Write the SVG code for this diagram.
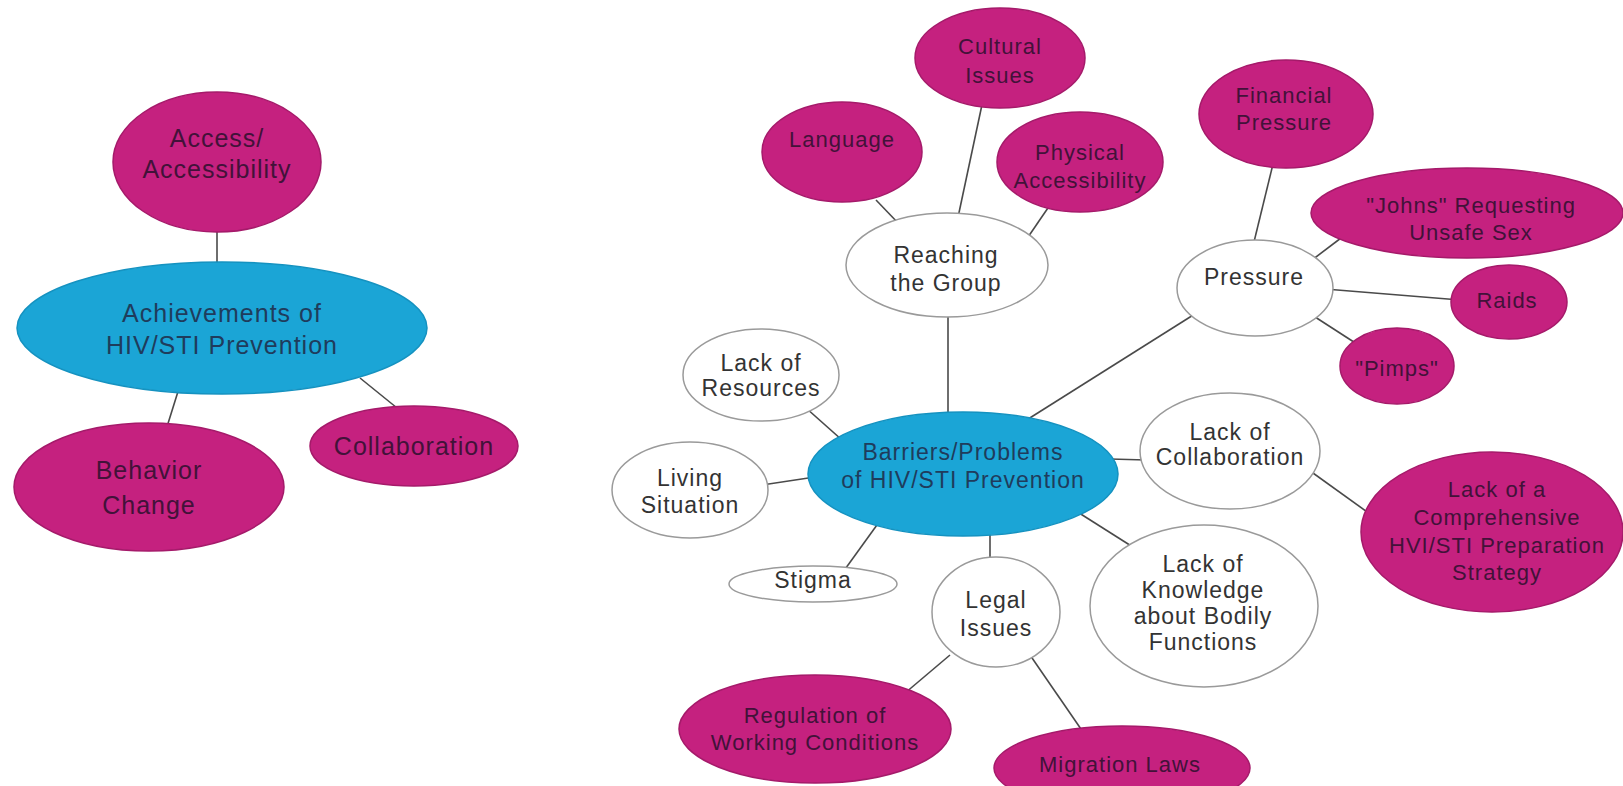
<svg xmlns="http://www.w3.org/2000/svg" width="1623" height="786" viewBox="0 0 1623 786">
<style>
text{font-family:"Liberation Sans",Arial,sans-serif;text-anchor:middle;dominant-baseline:central}
.m ellipse{fill:#C5217F;stroke:#A51A6A;stroke-width:1.5}
.m text{fill:#421239;font-size:22px;letter-spacing:1px}
.b ellipse{fill:#1BA5D6;stroke:#1592C0;stroke-width:1.5}
.b text{fill:#1F3C5C;font-size:23px;letter-spacing:1px}
.w ellipse{fill:#fff;stroke:#9a9a9a;stroke-width:1.5}
.w text{fill:#333;font-size:23px;letter-spacing:1px}
.L text{font-size:25px}
#edges line{stroke:#4a4a4a;stroke-width:1.6}
</style>
<rect width="1623" height="786" fill="#fff"/>
<g id="edges">
<line x1="217" y1="225" x2="217" y2="270"/>
<line x1="180" y1="385" x2="166" y2="430"/>
<line x1="360" y1="378" x2="402" y2="412"/>
<line x1="876" y1="200" x2="900" y2="225"/>
<line x1="983" y1="100" x2="957" y2="222"/>
<line x1="1050" y1="205" x2="1026" y2="240"/>
<line x1="948" y1="310" x2="948" y2="420"/>
<line x1="1274" y1="160" x2="1253" y2="246"/>
<line x1="1345" y1="235" x2="1312" y2="260"/>
<line x1="1325" y1="289" x2="1460" y2="300"/>
<line x1="1312" y1="315" x2="1360" y2="346"/>
<line x1="1198" y1="312" x2="1025" y2="421"/>
<line x1="806" y1="408" x2="842" y2="440"/>
<line x1="762" y1="485" x2="815" y2="477"/>
<line x1="843" y1="572" x2="882" y2="518"/>
<line x1="990" y1="528" x2="990" y2="562"/>
<line x1="1076" y1="511" x2="1136" y2="549"/>
<line x1="1110" y1="459" x2="1146" y2="460"/>
<line x1="1306" y1="468" x2="1370" y2="514"/>
<line x1="950" y1="655" x2="898" y2="699"/>
<line x1="1030" y1="655" x2="1083" y2="732"/>
</g>
<g id="n-access" class="m L"><ellipse cx="217" cy="162" rx="104" ry="70"/><text x="217" y="138">Access/</text><text x="217" y="169">Accessibility</text></g>
<g id="n-achievements" class="b L"><ellipse cx="222" cy="328" rx="205" ry="66"/><text x="222" y="313">Achievements of</text><text x="222" y="345">HIV/STI Prevention</text></g>
<g id="n-behavior" class="m L"><ellipse cx="149" cy="487" rx="135" ry="64"/><text x="149" y="470">Behavior</text><text x="149" y="505">Change</text></g>
<g id="n-collaboration" class="m L"><ellipse cx="414" cy="446" rx="104" ry="40"/><text x="414" y="446">Collaboration</text></g>
<g id="n-cultural" class="m"><ellipse cx="1000" cy="58" rx="85" ry="50"/><text x="1000" y="46">Cultural</text><text x="1000" y="75">Issues</text></g>
<g id="n-language" class="m"><ellipse cx="842" cy="152" rx="80" ry="50"/><text x="842" y="139">Language</text></g>
<g id="n-physical" class="m"><ellipse cx="1080" cy="162" rx="83" ry="50"/><text x="1080" y="152">Physical</text><text x="1080" y="180">Accessibility</text></g>
<g id="n-reaching" class="w"><ellipse cx="947" cy="265" rx="101" ry="52"/><text x="946" y="255">Reaching</text><text x="946" y="283">the Group</text></g>
<g id="n-financial" class="m"><ellipse cx="1286" cy="114" rx="87" ry="54"/><text x="1284" y="95">Financial</text><text x="1284" y="122">Pressure</text></g>
<g id="n-johns" class="m"><ellipse cx="1467" cy="213" rx="156" ry="45"/><text x="1471" y="205">"Johns" Requesting</text><text x="1471" y="232">Unsafe Sex</text></g>
<g id="n-pressure" class="w"><ellipse cx="1255" cy="288" rx="78" ry="48"/><text x="1254" y="277">Pressure</text></g>
<g id="n-raids" class="m"><ellipse cx="1509" cy="302" rx="58" ry="37"/><text x="1507" y="300">Raids</text></g>
<g id="n-pimps" class="m"><ellipse cx="1397" cy="366" rx="57" ry="38"/><text x="1397" y="368">"Pimps"</text></g>
<g id="n-resources" class="w"><ellipse cx="761" cy="375" rx="78" ry="46"/><text x="761" y="363">Lack of</text><text x="761" y="388">Resources</text></g>
<g id="n-living" class="w"><ellipse cx="690" cy="490" rx="78" ry="48"/><text x="690" y="478">Living</text><text x="690" y="505">Situation</text></g>
<g id="n-barriers" class="b"><ellipse cx="963" cy="474" rx="155" ry="62"/><text x="963" y="452">Barriers/Problems</text><text x="963" y="480">of HIV/STI Prevention</text></g>
<g id="n-stigma" class="w"><ellipse cx="813" cy="584" rx="84" ry="18"/><text x="813" y="580">Stigma</text></g>
<g id="n-legal" class="w"><ellipse cx="996" cy="612" rx="64" ry="55"/><text x="996" y="600">Legal</text><text x="996" y="628">Issues</text></g>
<g id="n-lackcollab" class="w"><ellipse cx="1230" cy="451" rx="90" ry="58"/><text x="1230" y="432">Lack of</text><text x="1230" y="457">Collaboration</text></g>
<g id="n-knowledge" class="w"><ellipse cx="1204" cy="606" rx="114" ry="81"/><text x="1203" y="564">Lack of</text><text x="1203" y="590">Knowledge</text><text x="1203" y="616">about Bodily</text><text x="1203" y="642">Functions</text></g>
<g id="n-comprehensive" class="m"><ellipse cx="1492" cy="532" rx="131" ry="80"/><text x="1497" y="489">Lack of a</text><text x="1497" y="517">Comprehensive</text><text x="1497" y="545">HVI/STI Preparation</text><text x="1497" y="572">Strategy</text></g>
<g id="n-regulation" class="m"><ellipse cx="815" cy="729" rx="136" ry="54"/><text x="815" y="715">Regulation of</text><text x="815" y="742">Working Conditions</text></g>
<g id="n-migration" class="m"><ellipse cx="1122" cy="768" rx="128" ry="42"/><text x="1120" y="764">Migration Laws</text></g>
</svg>
